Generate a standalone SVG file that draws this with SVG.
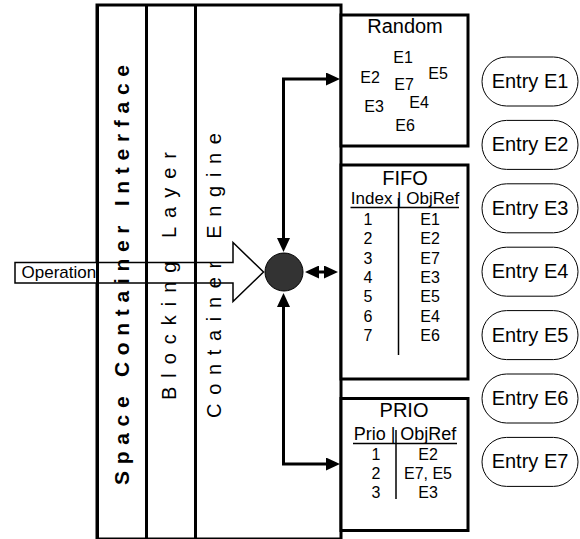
<svg xmlns="http://www.w3.org/2000/svg" width="580" height="539" viewBox="0 0 580 539">
<style>
text{font-family:"Liberation Sans",Arial,sans-serif;fill:#000}
.box{fill:#fff;stroke:#000;stroke-width:3}
.thin{fill:none;stroke:#000;stroke-width:1.5}
.entry{fill:#fff;stroke:#000;stroke-width:1}
.t20{font-size:20px;text-anchor:middle}
.t16{font-size:16px;text-anchor:middle}
.conn{fill:none;stroke:#000;stroke-width:3;stroke-linejoin:miter}
.col{font-size:20px}
</style>
<defs>
<marker id="ah" viewBox="0 0 14 13" refX="4" refY="6.5" markerWidth="14" markerHeight="13" markerUnits="userSpaceOnUse" orient="auto-start-reverse">
<path d="M0,0 L14,6.5 L0,13 z" fill="#000"/>
</marker>
</defs>
<rect width="580" height="539" fill="#fff"/>

<g id="frame">
<rect class="box" x="97" y="5" width="244" height="534"/>
</g>

<g id="operation">
<polygon points="15,262.5 233,262.5 233,242.5 263.5,272 233,301.5 233,283 15,283" fill="#fff" stroke="#000" stroke-width="1.5"/>
<text x="21.5" y="278" font-size="17">Operation</text>
</g>

<g id="layers">
<line x1="146.5" y1="5" x2="146.5" y2="539" stroke="#000" stroke-width="3"/>
<line x1="195.5" y1="5" x2="195.5" y2="539" stroke="#000" stroke-width="3"/>
<line x1="97.5" y1="5" x2="97.5" y2="539" stroke="#000" stroke-width="3"/>
<text transform="translate(129,485) rotate(-90)" font-size="21" font-weight="bold" textLength="420" lengthAdjust="spacing">Space Container Interface</text>
<text class="col" transform="translate(176,400) rotate(-90)" textLength="248" lengthAdjust="spacing">Blocking Layer</text>
<text class="col" transform="translate(221,418) rotate(-90)" textLength="285" lengthAdjust="spacing">Container Engine</text>
</g>

<g id="engine">
<circle cx="284" cy="272" r="19" fill="#333" stroke="#000" stroke-width="1"/>
</g>

<g id="random">
<rect class="box" x="341" y="15" width="127" height="131"/>
<text class="t20" x="405" y="33">Random</text>
<text class="t16" x="403" y="63">E1</text>
<text class="t16" x="370" y="83">E2</text>
<text class="t16" x="404" y="90">E7</text>
<text class="t16" x="438" y="79">E5</text>
<text class="t16" x="374" y="112">E3</text>
<text class="t16" x="419" y="108">E4</text>
<text class="t16" x="405" y="131">E6</text>
</g>

<g id="fifo">
<rect class="box" x="341" y="165" width="127" height="214"/>
<text class="t20" x="405" y="185">FIFO</text>
<text x="405" y="203.5" font-size="17" text-anchor="middle">Index | ObjRef</text>
<line x1="350.5" y1="207.5" x2="459" y2="207.5" stroke="#000" stroke-width="1.5"/>
<line x1="398.5" y1="198" x2="398.5" y2="355" stroke="#000" stroke-width="1.5"/>
<text class="t16" x="368" y="225">1</text><text class="t16" x="430" y="225">E1</text>
<text class="t16" x="368" y="244.3">2</text><text class="t16" x="430" y="244.3">E2</text>
<text class="t16" x="368" y="263.6">3</text><text class="t16" x="430" y="263.6">E7</text>
<text class="t16" x="368" y="283">4</text><text class="t16" x="430" y="283">E3</text>
<text class="t16" x="368" y="302.2">5</text><text class="t16" x="430" y="302.2">E5</text>
<text class="t16" x="368" y="321.5">6</text><text class="t16" x="430" y="321.5">E4</text>
<text class="t16" x="368" y="340.8">7</text><text class="t16" x="430" y="340.8">E6</text>
</g>

<g id="prio">
<rect class="box" x="341" y="398.5" width="127" height="132"/>
<text class="t20" x="404" y="417">PRIO</text>
<text x="405" y="440" font-size="18" text-anchor="middle">Prio | ObjRef</text>
<line x1="353" y1="443.5" x2="457" y2="443.5" stroke="#000" stroke-width="1.5"/>
<line x1="396" y1="430" x2="396" y2="499" stroke="#000" stroke-width="1.5"/>
<text class="t16" x="376" y="460">1</text><text class="t16" x="428" y="460">E2</text>
<text class="t16" x="376" y="479">2</text><text class="t16" x="428" y="479">E7, E5</text>
<text class="t16" x="376" y="498">3</text><text class="t16" x="428" y="498">E3</text>
</g>

<g id="connectors">
<path class="conn" d="M283.5,242 L283.5,79 L330,79" marker-start="url(#ah)" marker-end="url(#ah)"/>
<path class="conn" d="M283.5,303 L283.5,464 L330,464" marker-start="url(#ah)" marker-end="url(#ah)"/>
<path class="conn" d="M315,272 L328,272" marker-start="url(#ah)" marker-end="url(#ah)"/>
</g>

<g id="entry-e1"><rect class="entry" x="482" y="57" width="96" height="49" rx="24.5"/><text class="t20" x="530" y="88">Entry E1</text></g>
<g id="entry-e2"><rect class="entry" x="482" y="120.4" width="96" height="49" rx="24.5"/><text class="t20" x="530" y="151.4">Entry E2</text></g>
<g id="entry-e3"><rect class="entry" x="482" y="183.8" width="96" height="49" rx="24.5"/><text class="t20" x="530" y="214.8">Entry E3</text></g>
<g id="entry-e4"><rect class="entry" x="482" y="247.2" width="96" height="49" rx="24.5"/><text class="t20" x="530" y="278.2">Entry E4</text></g>
<g id="entry-e5"><rect class="entry" x="482" y="310.6" width="96" height="49" rx="24.5"/><text class="t20" x="530" y="341.6">Entry E5</text></g>
<g id="entry-e6"><rect class="entry" x="482" y="374" width="96" height="49" rx="24.5"/><text class="t20" x="530" y="405">Entry E6</text></g>
<g id="entry-e7"><rect class="entry" x="482" y="437.4" width="96" height="49" rx="24.5"/><text class="t20" x="530" y="468.4">Entry E7</text></g>
</svg>
